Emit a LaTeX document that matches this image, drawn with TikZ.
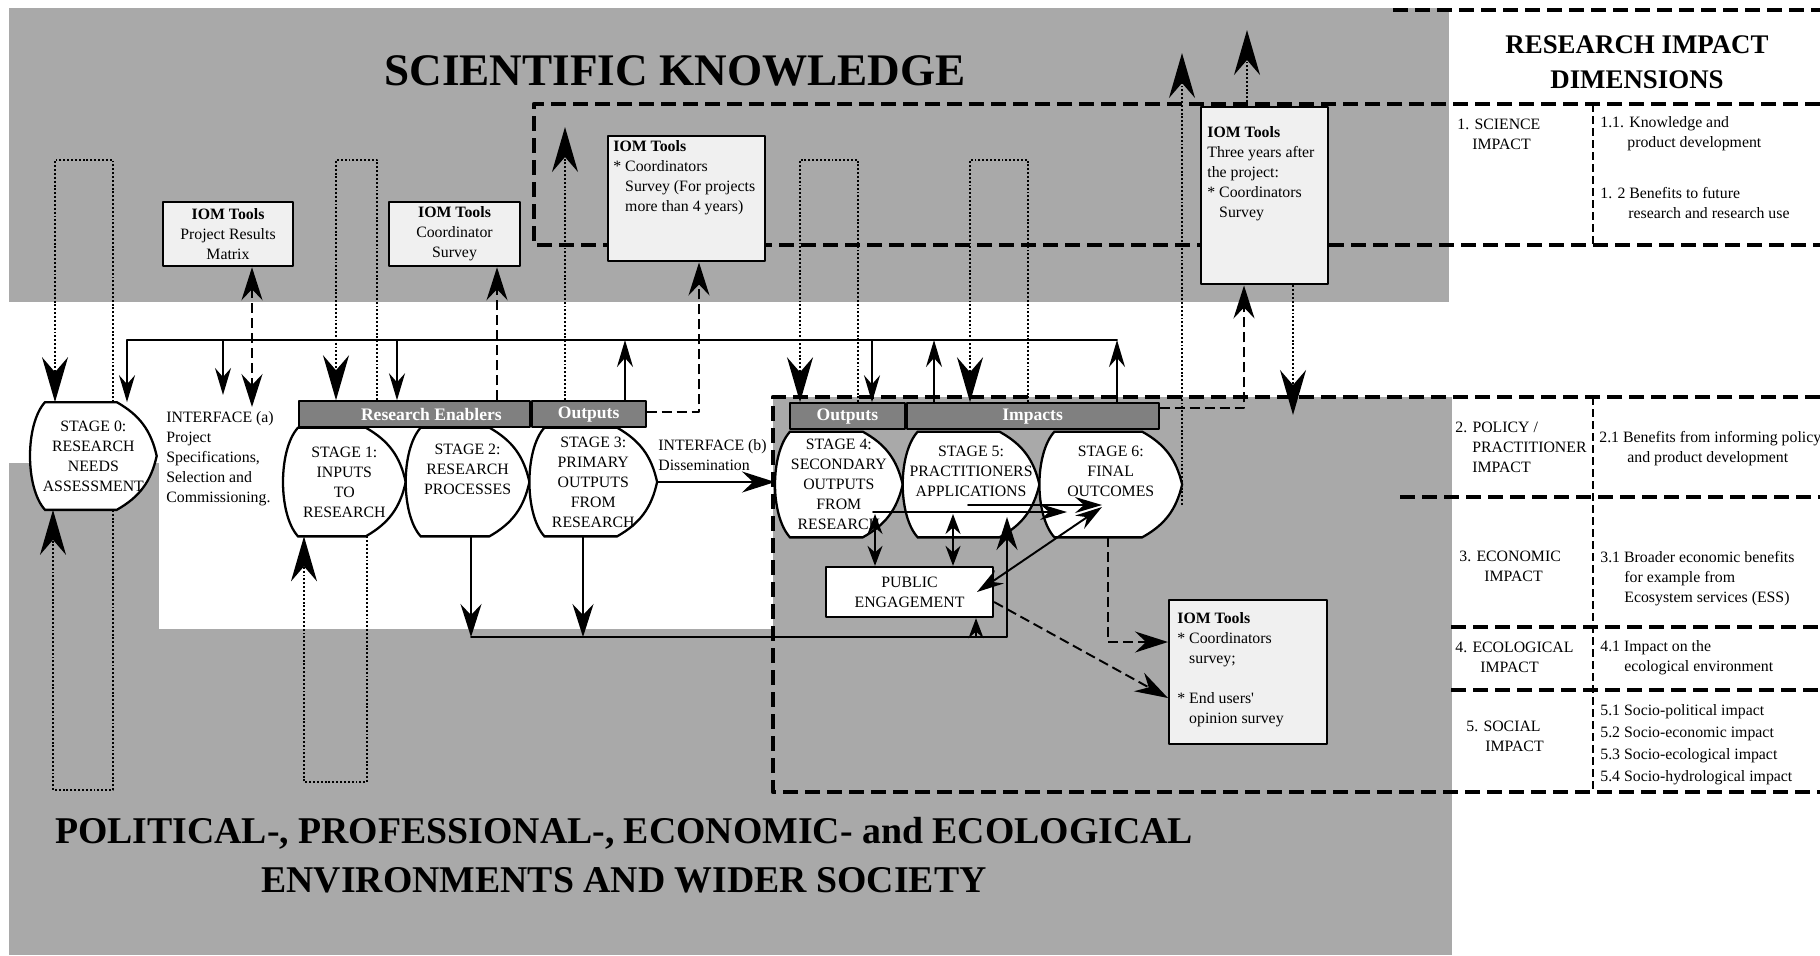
\documentclass[tikz,border=0pt]{standalone}
\usepackage{fontspec}
\setmainfont{Liberation Serif}
\usetikzlibrary{arrows.meta,calc,positioning}
\definecolor{zonegray}{RGB}{169,169,169}
\definecolor{bargray}{RGB}{128,128,128}
\definecolor{boxgray}{RGB}{240,240,240}
\pgfdeclarelayer{back}
\pgfdeclarelayer{mid}
\pgfsetlayers{back,mid,main}
\tikzset{
  every node/.style={font=\fontsize{9}{11.4}\selectfont, inner sep=0pt},
  tipbig/.tip={Stealth[length=9mm,width=5.2mm,inset=3mm]},
  tipmid/.tip={Stealth[length=6.6mm,width=4.2mm,inset=2.2mm]},
  tipsm/.tip={Stealth[length=5.4mm,width=3.2mm,inset=1.8mm]},
  tipxs/.tip={Stealth[length=4mm,width=3mm,inset=1.3mm]},
  zone/.style={fill=zonegray},
  stage/.style 2 args={minimum width=#1*0.2mm, minimum height=#2*0.2mm, align=center},
  stage edge/.style={draw=black, fill=white, line width=1.3pt},
  bar/.style={draw=black, line width=1pt, fill=bargray, text=white,
    font=\fontsize{10}{12}\selectfont\bfseries, minimum height=26*0.2mm},
  iom/.style={draw=black, line width=1.4pt, fill=boxgray},
  pebox/.style={draw=black, line width=1.3pt, fill=white, align=center},
  solid line/.style={line width=1.1pt},
  dash line/.style={line width=1.1pt, line cap=butt, dash pattern=on 2mm off 1mm},
  dot line/.style={line width=1.1pt, line cap=butt, dash pattern=on 1.1pt off 1.1pt},
  panel dash/.style={line width=2.4pt, line cap=butt, dash pattern=on 3mm off 1.4mm},
  sep dash/.style={line width=1.2pt, line cap=butt, dash pattern=on 1.6mm off 0.8mm},
  title/.style={font=\fontsize{25.7}{30}\selectfont\bfseries},
  txt/.style={anchor=north west, align=left}
}

\begin{document}
\begin{tikzpicture}[x=0.2mm,y=-0.2mm,line cap=round,line join=round]
  \useasboundingbox (0,0) rectangle (1820,955);

  % grey zones
  \begin{pgfonlayer}{back}
    \fill[zone] (9,8) rectangle (1449,302);
    \fill[zone] (9,463) rectangle (159,955);
    \fill[zone] (9,629) rectangle (1452,955);
    \fill[zone] (773,397) rectangle (1452,629);
  \end{pgfonlayer}

  % impact dimensions frame
  \draw[panel dash] (1393,10) -- (1820,10);
  \draw[panel dash] (1820,104) -- (534,104) -- (534,245) -- (1820,245);
  \draw[panel dash] (1820,397) -- (773,397) -- (773,792) -- (1820,792);
  \foreach \y/\x in {497/1400,627/1451,690/1451}
    \draw[panel dash] (\x,\y) -- (1820,\y);
  \draw[sep dash] (1593,104) -- (1593,245);
  \draw[sep dash] (1593,397) -- (1593,792);

  \node[title] (sci) at (675,71) {SCIENTIFIC KNOWLEDGE};
  \node[title, font=\fontsize{21.5}{27.9}\selectfont\bfseries, align=center] (soc) at (624,855)
    {POLITICAL-, PROFESSIONAL-, ECONOMIC- and ECOLOGICAL\\ENVIRONMENTS AND WIDER SOCIETY};
  \node[font=\fontsize{15.3}{19.9}\selectfont\bfseries, align=center] (rid) at (1637,62)
    {RESEARCH IMPACT\\DIMENSIONS};

  \node[txt] (d1) at (1457,119) {1. SCIENCE\\\hspace*{3mm}IMPACT};
  \node[txt] (d11) at (1600,116) {1.1. Knowledge and\\\hspace*{5.4mm}product development};
  \node[txt] (d12) at (1600,187) {1. 2 Benefits to future\\\hspace*{5.6mm}research and research use};
  \node[txt] (d2) at (1455,422) {2. POLICY /\\\hspace*{3.4mm}PRACTITIONER\\\hspace*{3.4mm}IMPACT};
  \node[txt] (d21) at (1599,431) {2.1 Benefits from informing policy\\\hspace*{5.6mm}and product development};
  \node[txt] (d3) at (1459,551) {3. ECONOMIC\\\hspace*{5mm}IMPACT};
  \node[txt] (d31) at (1600,551) {3.1 Broader economic benefits\\\hspace*{4.8mm}for example from\\\hspace*{4.8mm}Ecosystem services (ESS)};
  \node[txt] (d4) at (1455,642) {4. ECOLOGICAL\\\hspace*{5mm}IMPACT};
  \node[txt] (d41) at (1600,640) {4.1 Impact on the\\\hspace*{4.8mm}ecological environment};
  \node[txt] (d5) at (1466,721) {5. SOCIAL\\\hspace*{3.8mm}IMPACT};
  \node[txt, font=\fontsize{9}{12.5}\selectfont] (d51) at (1600,704)
    {5.1 Socio-political impact\\5.2 Socio-economic impact\\5.3 Socio-ecological impact\\5.4 Socio-hydrological impact};

  % stages
  \node[stage={126}{107}, anchor=west] (s0) at (30,456) {STAGE 0:\\RESEARCH\\NEEDS\\ASSESSMENT};
  \node[stage={122}{108}, anchor=west] (s1) at (283,482) {STAGE 1:\\INPUTS\\TO\\RESEARCH};
  \node[stage={123}{108}, right=0pt of s1] (s2) {STAGE 2:\\RESEARCH\\PROCESSES\\\strut};
  \node[stage={127}{108}, right=0pt of s2] (s3) {STAGE 3:\\PRIMARY\\OUTPUTS\\FROM\\RESEARCH};
  \node[stage={127}{105}, anchor=west] (s4) at (775,484.5) {STAGE 4:\\SECONDARY\\OUTPUTS\\FROM\\RESEARCH};
  \node[stage={136}{105}, right=0pt of s4] (s5) {STAGE 5:\\PRACTITIONERS\\APPLICATIONS\\\strut};
  \node[stage={142}{105}, right=0pt of s5] (s6) {STAGE 6:\\FINAL\\OUTCOMES\\\strut};
  \begin{pgfonlayer}{mid}
    \foreach \s in {s0,s1,s2,s3,s4,s5,s6}
      \draw[stage edge] ($(\s.north west)+(15,0)$) -- ($(\s.north east)+(-40,0)$)
        to[bend left=24] (\s.east) to[bend left=24] ($(\s.south east)+(-40,0)$)
        -- ($(\s.south west)+(15,0)$)
        .. controls ($(\s.south west)+(-5,-22)$) and ($(\s.north west)+(-5,22)$)
        .. ($(\s.north west)+(15,0)$) -- cycle;
  \end{pgfonlayer}

  \node[bar, minimum width=231*0.2mm, anchor=south west] (bRE) at (298,428) {\hspace*{6.8mm}Research Enablers};
  \node[bar, minimum width=114*0.2mm, right=0pt of bRE] (bO1) {Outputs};
  \node[bar, minimum width=115*0.2mm, anchor=south west] (bO2) at (789,430) {Outputs};
  \node[bar, minimum width=252*0.2mm, right=0pt of bO2] (bImp) {Impacts};

  \node[txt] (ifa) at (166,411) {INTERFACE (a)\\Project\\Specifications,\\Selection and\\Commissioning.};
  \node[txt] (ifb) at (658,439) {INTERFACE (b)\\Dissemination};

  % IOM tools
  \node[iom, minimum width=130*0.2mm, minimum height=64*0.2mm, align=center] (iomA) at (228,234)
    {\textbf{IOM Tools}\\Project Results\\Matrix};
  \node[iom, minimum width=131*0.2mm, minimum height=64*0.2mm, align=center] (iomB) at (454.5,234)
    {\textbf{IOM Tools}\\Coordinator\\Survey};
  \node[iom, minimum width=157*0.2mm, minimum height=125*0.2mm, anchor=north west] (iomC) at (607,135) {};
  \node[txt] (iomCt) at (613,140)
    {\textbf{IOM Tools}\\* Coordinators\\\phantom{* }Survey (For projects\\\phantom{* }more than 4 years)};
  \node[iom, minimum width=127*0.2mm, minimum height=177*0.2mm, anchor=north west] (iomD) at (1200,106) {};
  \node[txt] (iomDt) at (1207,126)
    {\textbf{IOM Tools}\\Three years after\\the project:\\* Coordinators\\\phantom{* }Survey};
  \node[iom, minimum width=158*0.2mm, minimum height=144*0.2mm, anchor=north west] (iomE) at (1168,599) {};
  \node[txt] (iomEt) at (1177,612)
    {\textbf{IOM Tools}\\* Coordinators\\\phantom{* }survey;\\[11.4pt]* End users\textquotesingle\\\phantom{* }opinion survey};

  \node[pebox, minimum width=167*0.2mm, minimum height=50*0.2mm] (pe) at (909.5,592) {PUBLIC\\ENGAGEMENT};

  % feedback bus
  \coordinate (busL) at (127,340);
  \coordinate (busR) at (1117,340);
  \draw[solid line] (busL) -- (busR);
  \draw[solid line,-tipsm] (busL) -- (busL |- s0.north);
  \draw[solid line,-tipsm] (223,340) -- (223,395);
  \draw[solid line,-tipsm] (397,340) -- (397,0 |- bRE.north);
  \draw[solid line,-tipsm] (872,340) -- (872,0 |- bO2.north);
  \draw[solid line,-tipsm] (625,0 |- bO1.north) -- (625,340);
  \draw[solid line,-tipsm] (934,0 |- bImp.north) -- (934,340);
  \draw[solid line,-tipsm] (busR |- bImp.north) -- (busR);

  % flows between stages
  \draw[solid line,-tipmid] (s3.east) -- (s3.east -| s4.west);
  \draw[solid line,-tipmid] (s2.south -| 471,0) -- (471,637);
  \draw[solid line,-tipmid] (s3.south -| 583,0) -- (583,637);
  \draw[solid line,-tipmid] (471,637) -| (1007,517);
  \draw[solid line,-tipxs] (976,637) -- (976,0 |- pe.south);
  \draw[solid line,tipxs-tipxs] (875,514) -- (875,0 |- pe.north);
  \draw[solid line,tipxs-tipxs] (953,514) -- (953,0 |- pe.north);
  \draw[solid line,-tipsm] (873,512) -- (1067,512);
  \draw[solid line,-tipsm] (968,505) -- (1102,505);
  \draw[solid line,tipsm-tipsm] (977,592) -- (1102,507);

  % links to the IOM tools
  \draw[dash line,tipmid-tipmid] (iomA.south -| 252,0) -- (252,407);
  \draw[dash line,-tipmid] (497,0 |- bRE.north) -- (497,0 |- iomB.south);
  \draw[dash line,-tipmid] (bO1.east |- 0,412) -- (699,412) -- (699,0 |- iomC.south);
  \draw[dash line,-tipmid] (bImp.east |- 0,408) -- (1244,408) -- (1244,0 |- iomD.south);
  \draw[dash line,-tipmid] (s6.south -| 1108,0) -- (1108,642) -- (iomE.west |- 0,642);
  \draw[dash line,-tipmid] (pe.east |- 0,602) -- (iomE.west |- 0,698);

  % dotted loops
  \foreach \xl/\xr/\n in {55/113/s0,336/377/bRE,800/858/bO2,970/1028/bImp}
    \draw[dot line,-tipbig] (\xr,0 |- \n.north) -- (\xr,160) -- (\xl,160) -- (\xl,0 |- \n.north);
  \foreach \xl/\xr/\yb/\n in {53/113/790/s0,304/367/782/s1}
    \draw[dot line,-tipbig] (\xr,0 |- \n.south) -- (\xr,\yb) -- (\xl,\yb) -- (\xl,0 |- \n.south);
  \draw[dot line,-tipbig] (565,0 |- bO1.north) -- (565,127);
  \draw[dot line,-tipbig] (1182,505) -- (1182,53);
  \draw[dot line,-tipbig] (1247,0 |- iomD.north) -- (1247,30);
  \draw[dot line,-tipbig] (1293,0 |- iomD.south) -- (1293,415);
\end{tikzpicture}
\end{document}
